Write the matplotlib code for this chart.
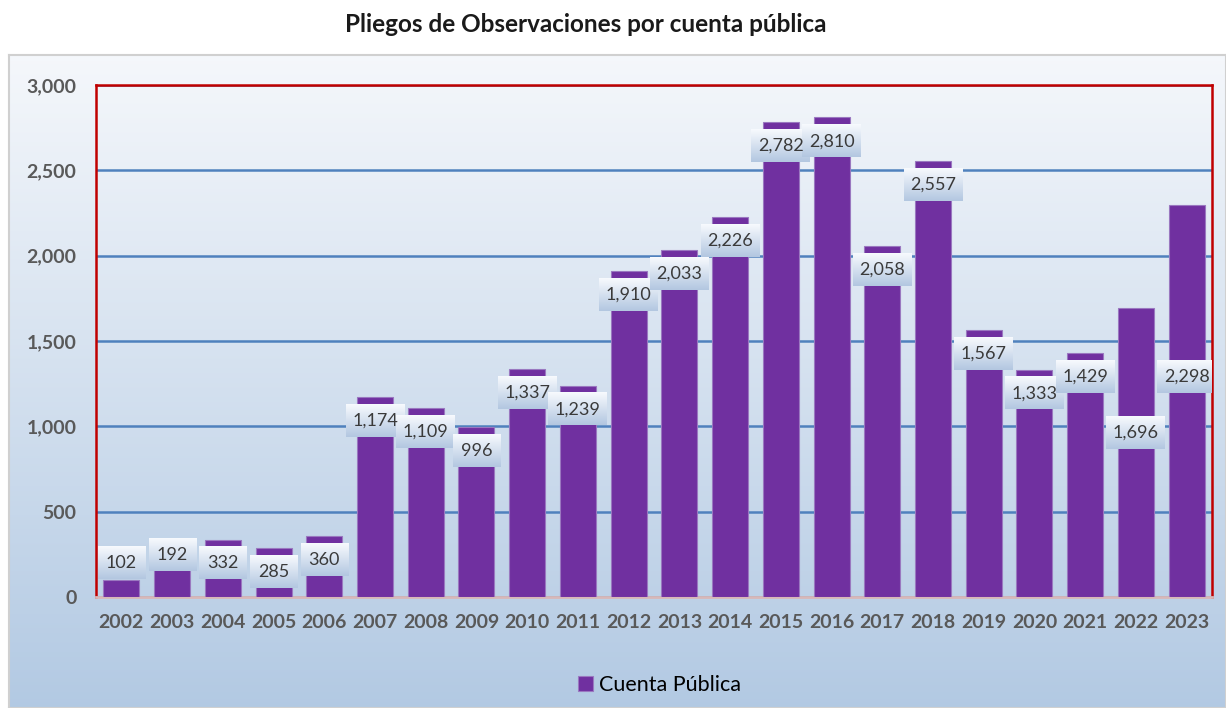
import numpy as np
import matplotlib.pyplot as plt

years = ['2002', '2003', '2004', '2005', '2006', '2007', '2008', '2009', '2010', '2011', '2012',
         '2013', '2014', '2015', '2016', '2017', '2018', '2019', '2020', '2021', '2022', '2023']
pliegos = [102, 192, 332, 285, 360, 1174, 1109, 996, 1337, 1239, 1910,
           2033, 2226, 2782, 2810, 2058, 2557, 1567, 1333, 1429, 1696, 2298]
yticks = [0, 500, 1000, 1500, 2000, 2500, 3000]

# label boxes that the original chart had moved by hand (centre, in data units)
label_moved = {'2002': 200, '2003': 246, '2004': 199, '2005': 146, '2006': 217,
               '2022': 961, '2023': 1289}

plt.rcParams['font.family'] = ['Lato', 'DejaVu Sans']

fig = plt.figure(figsize=(12.26, 7.08), dpi=100)

# background panel with vertical gradient
bg = fig.add_axes([9 / 1226, 0, 1 - 9 / 1226, 1 - 55 / 708], zorder=-10)
grad = np.linspace(0, 1, 256).reshape(-1, 1)
top_c = np.array([0.96, 0.97, 0.985])
bot_c = np.array([0.70, 0.79, 0.89])
img = top_c * (1 - grad[..., None]) + bot_c * grad[..., None]
bg.imshow(img, aspect='auto', extent=[0, 1, 0, 1])
bg.set_xticks([])
bg.set_yticks([])
for s in bg.spines.values():
    s.set_color('#d0d0d0')
    s.set_linewidth(1.5)

ax = fig.add_axes([96 / 1226, 1 - 597 / 708, (1212 - 96) / 1226, (597 - 85) / 708])
ax.patch.set_alpha(0)

x = np.arange(len(years))
ax.bar(x, pliegos, width=0.71, color='#7030a0', edgecolor='#9a78c0', linewidth=0.8,
       zorder=3, label='Cuenta Pública')

ax.set_xlim(-0.5, len(years) - 0.5)
ax.set_ylim(0, 3000)
ax.set_yticks(yticks)
ax.set_yticklabels([f'{v:,}' for v in yticks])
ax.set_xticks(x)
ax.set_xticklabels(years)
ax.tick_params(length=0, labelsize=14, colors='#595959', pad=12)
ax.tick_params(axis='y', pad=14)
for lab in ax.get_xticklabels() + ax.get_yticklabels():
    lab.set_fontweight('bold')

ax.yaxis.grid(True, color='#4f81bd', linewidth=1.8, zorder=1)
ax.set_axisbelow(True)
for side in ['top', 'left', 'right']:
    ax.spines[side].set_color('#c00000')
    ax.spines[side].set_linewidth(1.8)
ax.spines['bottom'].set_color('#d8b8b8')
ax.spines['bottom'].set_linewidth(2)

# data labels in gradient boxes
box_grad = np.linspace(0, 1, 64).reshape(-1, 1)
box_top = np.array([0.97, 0.98, 0.995])
box_bot = np.array([0.70, 0.78, 0.88])
box_img = box_top * (1 - box_grad[..., None]) + box_bot * box_grad[..., None]
for xi, yr, v in zip(x, years, pliegos):
    yc = label_moved.get(yr, v - 140)
    txt = f'{v:,}'
    w = 0.93 if len(txt) <= 3 else 1.16
    h = 188
    ax.imshow(box_img, aspect='auto', extent=[xi - w / 2, xi + w / 2, yc - h / 2, yc + h / 2],
              zorder=5)
    ax.text(xi, yc, txt, ha='center', va='center', fontsize=13, color='#3a3a3a', zorder=6)

ax.set_xlim(-0.5, len(years) - 0.5)
ax.set_ylim(0, 3000)

fig.text(0.478, 1 - 25 / 708, 'Pliegos de Observaciones por cuenta pública', ha='center',
         va='center', fontsize=17.5, fontweight='bold', color='#1a1a1a')

fig.legend(loc='center', bbox_to_anchor=(0.538, 1 - 685 / 708), frameon=False, fontsize=15.5,
           handlelength=0.7, handleheight=0.7, handletextpad=0.3)

fig.savefig('out.png', dpi=100)
